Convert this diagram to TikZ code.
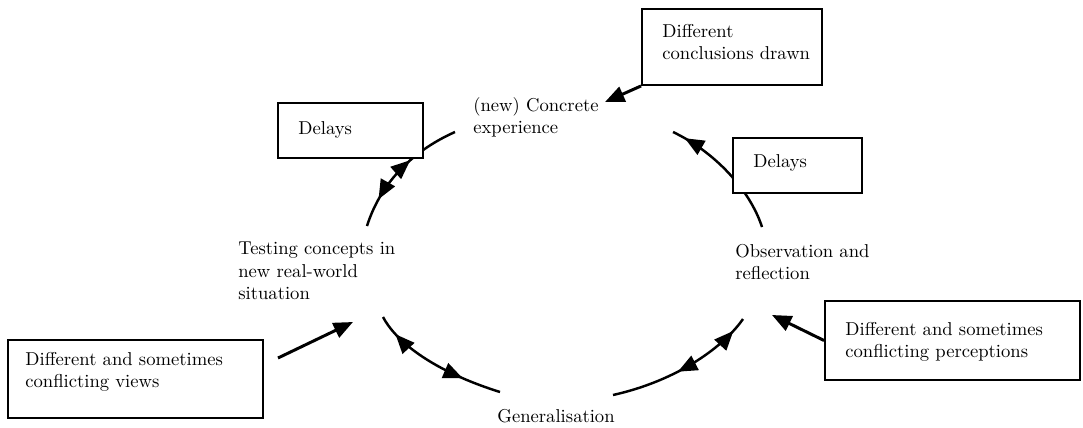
\documentclass[tikz,border=0pt]{standalone}
\usetikzlibrary{arrows.meta,decorations.markings}
\begin{document}
\begin{tikzpicture}[x=0.02cm,y=-0.02cm,
  >={Triangle[length=11pt,width=9pt]},
  box/.style={draw,line width=1.1pt,fill=white,rectangle,inner sep=0pt},
  txt/.style={anchor=north west,inner sep=0pt,align=left,
              font=\fontsize{10.6}{12.6}\selectfont},
  cyc/.style={line width=1.4pt},
  arr/.style={line width=1.7pt,->}]
\useasboundingbox (0,0) rectangle (1083,427);

% end points of the four cycle arcs
\coordinate (a1) at (367,226); \coordinate (a2) at (455,132);
\coordinate (b1) at (673,132); \coordinate (b2) at (762,227);
\coordinate (c1) at (383,317); \coordinate (c2) at (500,392);
\coordinate (d1) at (743,319); \coordinate (d2) at (613,395);

% cycle arcs with arrowheads in both directions
\draw[cyc,postaction=decorate,decoration={markings,
    mark=at position 0.22 with {\arrowreversed{>}},
    mark=at position 0.60 with {\arrow{>}}}]
  (a1) .. controls (380,185) and (410,152) .. (a2);
\draw[cyc,postaction=decorate,decoration={markings,
    mark=at position 0.10 with {\arrowreversed{>}}}]
  (b1) .. controls (715,152) and (750,190) .. (b2);
\draw[cyc,postaction=decorate,decoration={markings,
    mark=at position 0.15 with {\arrowreversed{>}},
    mark=at position 0.72 with {\arrow{>}}}]
  (c1) .. controls (395,340) and (430,370) .. (c2);
\draw[cyc,postaction=decorate,decoration={markings,
    mark=at position 0.10 with {\arrowreversed{>}},
    mark=at position 0.55 with {\arrow{>}}}]
  (d1) .. controls (725,345) and (680,380) .. (d2);

% stage labels
\node[txt] (concrete) at (473,97) {(new) Concrete\\experience};
\node[txt] (testing) at (238,242) {Testing concepts in\\new real-world\\situation};
\node[txt] (obs) at (735,244) {Observation and\\reflection};
\node[txt,anchor=north east] (gen) at (615,409) {Generalisation};

% boxes
\node[box,minimum width=2.9cm,minimum height=1.1cm] (d1box) at (350.5,130.5) {};
\node[txt] (d1txt) at (298,121) {Delays};
\node[box,minimum width=2.58cm,minimum height=1.1cm] (d2box) at (797.5,165.5) {};
\node[txt] (d2txt) at (753,154) {Delays};
\node[box,minimum width=3.6cm,minimum height=1.52cm] (cbox) at (732,47) {};
\node[txt] (ctxt) at (662,24) {Different\\conclusions drawn};
\node[box,minimum width=5.1cm,minimum height=1.56cm] (vbox) at (135.5,379) {};
\node[txt] (vtxt) at (25,352) {Different and sometimes\\conflicting views};
\node[box,minimum width=5.1cm,minimum height=1.58cm] (pbox) at (952.5,340.5) {};
\node[txt] (ptxt) at (845,322) {Different and sometimes\\conflicting perceptions};

% influences pointing at the cycle
\coordinate (cT) at (605,102);
\coordinate (vS) at (278,358); \coordinate (vT) at (353,322);
\coordinate (pT) at (772,315);
\draw[arr] (cbox.south west) -- (cT);
\draw[arr] (vS) -- (vT);
\draw[arr] (pbox.west) -- (pT);
\end{tikzpicture}
\end{document}
